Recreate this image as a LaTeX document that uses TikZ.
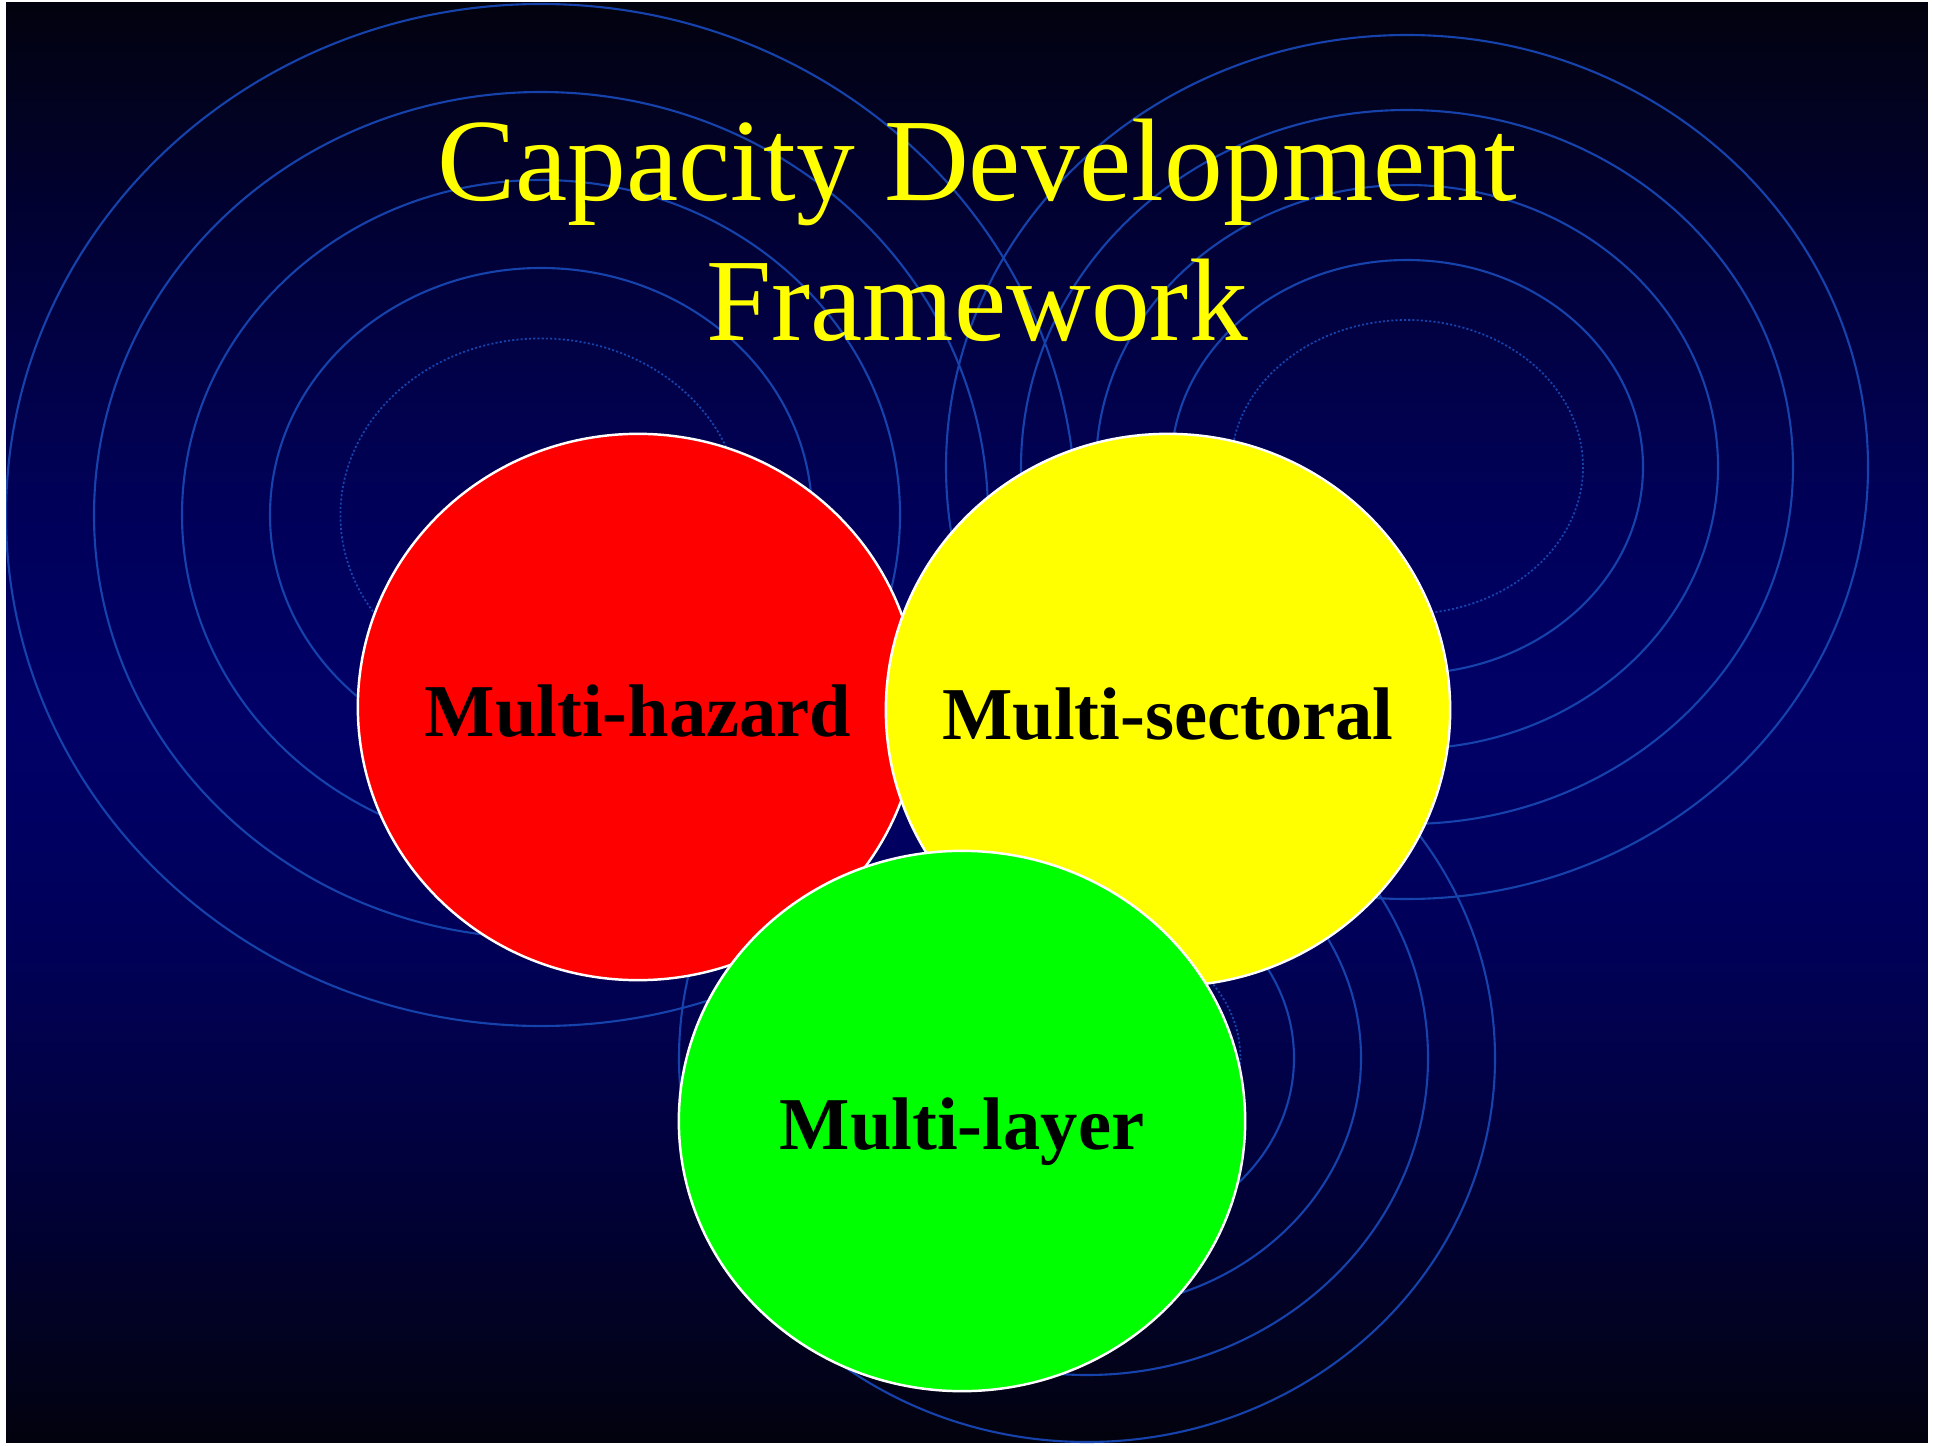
\documentclass[tikz,border=0pt]{standalone}
\usepackage{fontspec}
\setmainfont{Liberation Serif}
\usetikzlibrary{shapes.geometric}

\definecolor{ringblue}{RGB}{22,66,172}
\definecolor{bgdark}{RGB}{2,2,14}
\definecolor{bgnavy}{RGB}{0,0,102}
\definecolor{titleyellow}{RGB}{255,255,0}
\definecolor{blobred}{RGB}{255,0,0}
\definecolor{blobyellow}{RGB}{255,255,0}
\definecolor{blobgreen}{RGB}{0,255,0}

\begin{document}
\begin{tikzpicture}[x = 0.01cm, y = -0.01cm,
    ring/.style = {draw = ringblue, line width = 0.6pt},
    inner ring/.style = {ring, line width = 0.5pt, dash pattern = on 0.6pt off 0.6pt},
    blob/.style = {shape = ellipse, draw = white, line width = 0.7pt, inner sep = 0pt},
    tag/.style = {anchor = base, text = black, font = \fontsize{21.2}{25}\selectfont\bfseries},
    heading/.style = {anchor = base, text = titleyellow, font = \fontsize{33.4}{40}\selectfont}]
    \useasboundingbox (0,0) rectangle (1933,1446);
    \fill[white] (0,0) rectangle (1933,1446);
    % background: dark at top and bottom, navy in the middle
    \foreach \i in {0,...,143}{
        \pgfmathsetmacro\p{100*(1-(abs(\i-71.5)/72)^1.5)}
        \fill[bgnavy!\p!bgdark] (6,{2+\i*10}) rectangle (1928,{13+\i*10});
    }
    \fill[white] (0,1444) rectangle (1933,1446);
    % rings behind everything
    \begin{scope}
        \clip (6,2) rectangle (1928,1444);
        \foreach \cx/\cy/\rx/\ry/\d in {541/515/535/511/88, 1407/467/461/432/75, 1087/1058/408/384/67}{
            \foreach \k in {0,1,2,3}
                \draw[ring] (\cx,\cy) ellipse [x radius = \rx-\k*\d, y radius = \ry-\k*\d];
            \draw[inner ring] (\cx,\cy) ellipse [x radius = \rx-3.8*\d, y radius = \ry-3.8*\d];
        }
    \end{scope}
    \node[heading] (title) at (977,201) {Capacity Development};
    \node[heading] (subtitle) at (977,341) {Framework};
    % the three blobs
    \node[blob, fill = blobred, minimum width = 5.60cm, minimum height = 5.46cm] (hazard) at (638,707) {};
    \node[blob, fill = blobyellow, minimum width = 5.64cm, minimum height = 5.52cm] (sector) at (1168,710) {};
    \node[blob, fill = blobgreen, minimum width = 5.66cm, minimum height = 5.40cm] (layer) at (962,1121) {};
    \node[tag] (hazardtag) at (638,736) {Multi-hazard};
    \node[tag] (sectortag) at (1168,739) {Multi-sectoral};
    \node[tag] (layertag) at (962,1149) {Multi-layer};
\end{tikzpicture}
\end{document}
